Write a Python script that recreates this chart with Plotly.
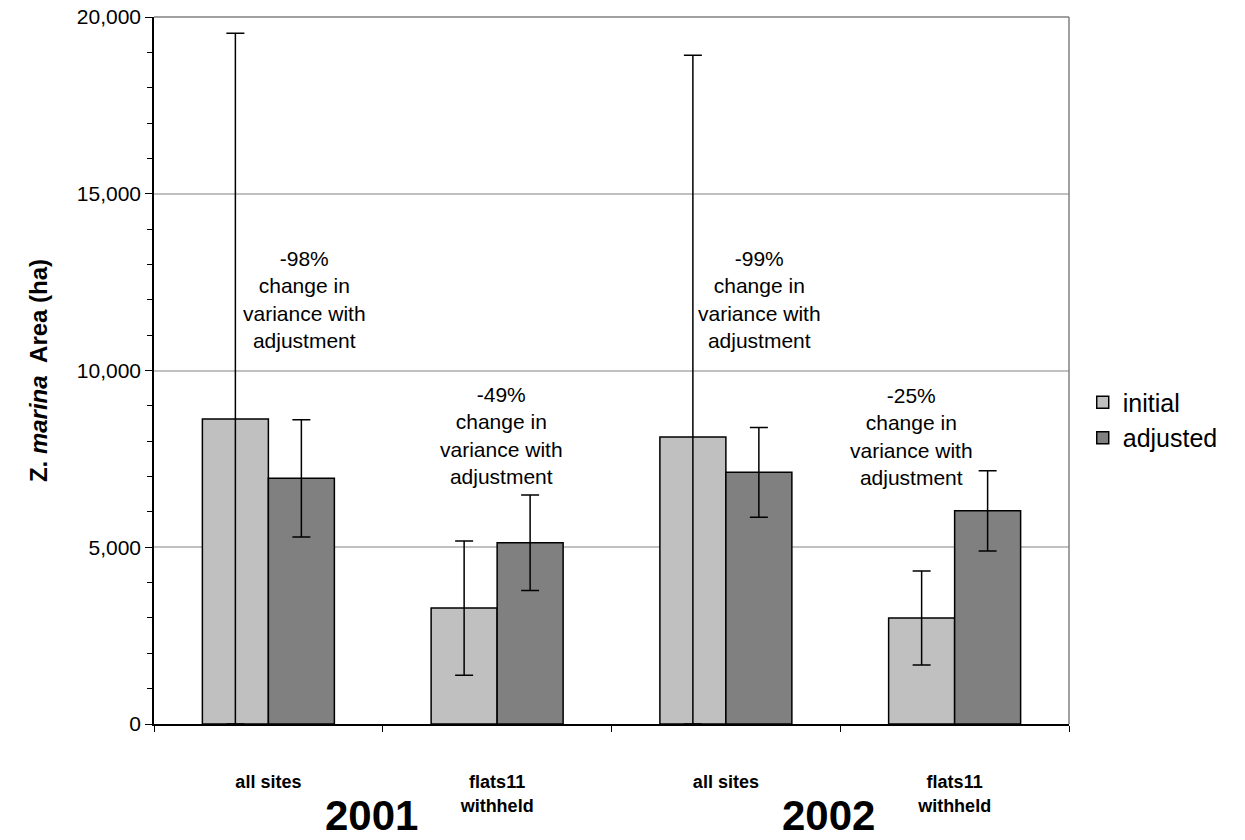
import plotly.graph_objects as go

# ---- data ----
cat_labels = ["all sites", "flats11<br>withheld", "all sites", "flats11<br>withheld"]
years = ["2001", "2002"]
initial = [8630, 3280, 8120, 3000]
initial_err = [10910, 1900, 10800, 1330]
adjusted = [6950, 5130, 7120, 6030]
adjusted_err = [1660, 1350, 1270, 1135]
notes = ["-98%<br>change in<br>variance with<br>adjustment",
         "-49%<br>change in<br>variance with<br>adjustment",
         "-99%<br>change in<br>variance with<br>adjustment",
         "-25%<br>change in<br>variance with<br>adjustment"]

FONT = "Liberation Sans, Arial, sans-serif"
xpos = list(range(len(cat_labels)))

def clip_minus(vals, errs):
    return [min(v, e) for v, e in zip(vals, errs)]

fig = go.Figure()
fig.add_trace(go.Bar(
    x=xpos, y=initial, name="initial",
    marker=dict(color="#c0c0c0", line=dict(color="black", width=1.5)),
    error_y=dict(type="data", symmetric=False, array=initial_err,
                 arrayminus=clip_minus(initial, initial_err),
                 color="black", thickness=1.5, width=9),
))
fig.add_trace(go.Bar(
    x=xpos, y=adjusted, name="adjusted",
    marker=dict(color="#808080", line=dict(color="black", width=1.5)),
    error_y=dict(type="data", symmetric=False, array=adjusted_err,
                 arrayminus=clip_minus(adjusted, adjusted_err),
                 color="black", thickness=1.5, width=9),
))

# annotation positions (x in axis units, y in data units)
note_x = [0.16, 1.02, 2.145, 2.81]
note_y = [12000, 8150, 12000, 8120]
for t, nx, ny in zip(notes, note_x, note_y):
    fig.add_annotation(x=nx, y=ny, xref="x", yref="y", text=t, showarrow=False,
                       font=dict(family=FONT, size=21, color="black"),
                       align="center", xanchor="center", yanchor="middle")

year_x = [0.45, 2.45]
for yr, yx in zip(years, year_x):
    fig.add_annotation(x=yx, y=-0.13, xref="x", yref="paper", text="<b>%s</b>" % yr,
                       showarrow=False, font=dict(family=FONT, size=42, color="black"),
                       xanchor="center", yanchor="middle")

# top and right border in grey
fig.add_shape(type="line", xref="paper", yref="paper", x0=0, x1=1, y0=1, y1=1,
              line=dict(color="#808080", width=1.5))
fig.add_shape(type="line", xref="paper", yref="paper", x0=1, x1=1, y0=0, y1=1,
              line=dict(color="#808080", width=1.5))

fig.update_layout(
    width=1245, height=840,
    margin=dict(l=154, r=176, t=17, b=116, autoexpand=False),
    paper_bgcolor="white", plot_bgcolor="white",
    barmode="group", bargap=0.423, bargroupgap=0,
    font=dict(family=FONT, color="black"),
    legend=dict(x=1.015, y=0.43, xanchor="left", yanchor="middle",
                font=dict(family=FONT, size=25, color="black"),
                bgcolor="rgba(0,0,0,0)", tracegroupgap=0),
    xaxis=dict(range=[-0.5, 3.5], tickmode="array", tickvals=xpos, ticktext=cat_labels,
               ticks="", showgrid=False, zeroline=False,
               showline=True, linecolor="black", linewidth=1.5,
               tickfont=dict(family=FONT, size=18, color="black", weight="bold"),
               ticklabelstandoff=41,
               minor=dict(tickmode="linear", tick0=-0.5, dtick=1, ticks="outside",
                          ticklen=6, tickcolor="black", tickwidth=1, showgrid=False)),
    yaxis=dict(range=[0, 20000], tickmode="linear", tick0=0, dtick=5000,
               tickformat=",d", ticks="outside", ticklen=7, tickcolor="black",
               showline=True, linecolor="black", linewidth=1.5,
               showgrid=True, gridcolor="#c0c0c0", gridwidth=1.5, zeroline=False,
               tickfont=dict(family=FONT, size=21, color="black"),
               minor=dict(dtick=1000, ticks="outside", ticklen=5, tickcolor="black",
                          tickwidth=1, showgrid=False),
               title=dict(text="<b>Z. <i>marina</i>  Area (ha)</b>",
                          font=dict(family=FONT, size=24, color="black"),
                          standoff=22)),
)

fig.write_html("out.html")
